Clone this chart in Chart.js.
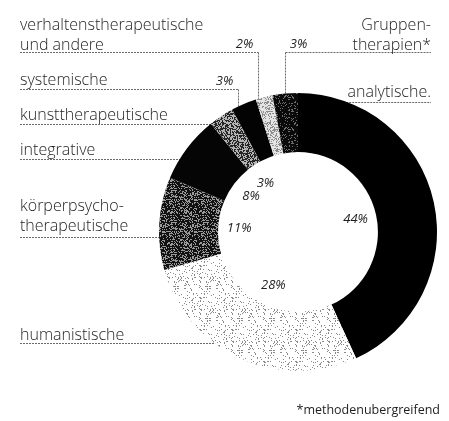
<!DOCTYPE html>
<html>
<head>
<meta charset="utf-8">
<script src="https://cdn.jsdelivr.net/npm/chart.js@4/dist/chart.umd.min.js"></script>
<style>
  html, body { margin: 0; padding: 0; background: #fff; }
  #wrap { position: relative; width: 449px; height: 421px; }
</style>
</head>
<body>
<div id="wrap"><canvas id="c" width="449" height="421"></canvas></div>
<script>
// Categories of therapy method, clockwise from 12 o'clock
const categories = [
  'analytische',
  'humanistische',
  'körperpsychotherapeutische',
  'integrative',
  'kunsttherapeutische',
  'systemische',
  'verhaltenstherapeutische und andere',
  'Gruppentherapien'
];
// Share of each category in percent
const shares = [44, 28, 11, 8, 3, 3, 2, 3];
// Caption lines shown next to the ring for each category
const captionLines = [
  ['analytische.'],
  ['humanistische'],
  ['körperpsycho-', 'therapeutische'],
  ['integrative'],
  ['kunsttherapeutische'],
  ['systemische'],
  ['verhaltenstherapeutische', 'und andere'],
  ['Gruppen-', 'therapien*']
];
const footnote = '*methodenubergreifend';

// Stippled print-style fills: [paper tone, dot tone, dot density]
const textures = [
  ['#000000', '#000000', 0],
  ['#ffffff', '#8a8a8a', 0.13],
  ['#121212', '#9a9a9a', 0.34],
  ['#050505', '#050505', 0],
  ['#262626', '#b4b4b4', 0.5],
  ['#030303', '#030303', 0],
  ['#e4e4e4', '#8c8c8c', 0.33],
  ['#0a0a0a', '#6e6e6e', 0.16]
];

// deterministic integer hash for a stipple tile
function hash(x, y, s) {
  let h = (x * 374761393 + y * 668265263 + s * 2147483647) | 0;
  h = (h ^ (h >>> 13)) * 1274126177 | 0;
  h = h ^ (h >>> 16);
  return ((h >>> 0) % 1000) / 1000;
}

function stipple(paper, dot, density, seed) {
  const n = 32;
  const cv = document.createElement('canvas');
  cv.width = n; cv.height = n;
  const g = cv.getContext('2d');
  g.fillStyle = paper;
  g.fillRect(0, 0, n, n);
  if (density > 0) {
    g.fillStyle = dot;
    for (let y = 0; y < n; y++) {
      for (let x = 0; x < n; x++) {
        if (hash(x, y, seed) < density) g.fillRect(x, y, 1, 1);
      }
    }
  }
  return g.createPattern(cv, 'repeat');
}

const fills = textures.map((t, i) => stipple(t[0], t[1], t[2], i + 1));

const LABEL_FONT = '300 16px "Open Sans", "Noto Sans", sans-serif';
const PCT_FONT = 'italic 13px "Open Sans", "Noto Sans", sans-serif';
const TEXT = '#1e1e1e';

// Caption placement: side, baseline of first line, line gap, underline y,
// and how the leader reaches the ring (horizontal to ring edge, or a drop line)
const captionLayout = [
  { side: 'right', x: 431, base: 97,  gap: 0,  ul: 102, leader: 'h' },
  { side: 'left',  x: 20,  base: 340, gap: 0,  ul: 343, leader: 'h' },
  { side: 'left',  x: 20,  base: 211, gap: 20, ul: 237, leader: 'h' },
  { side: 'left',  x: 20,  base: 155, gap: 0,  ul: 159, leader: 'h' },
  { side: 'left',  x: 20,  base: 120, gap: 0,  ul: 124, leader: 'h' },
  { side: 'left',  x: 20,  base: 85,  gap: 0,  ul: 89,  leader: 'v', at: 0.25, pct: 'left' },
  { side: 'left',  x: 20,  base: 30,  gap: 20, ul: 52,  leader: 'v', at: 0.15, pct: 'left' },
  { side: 'right', x: 431, base: 30,  gap: 20, ul: 52,  leader: 'v', at: 0.5,  pct: 'right' }
];

function dashed(ctx, x1, y1, x2, y2) {
  ctx.save();
  ctx.strokeStyle = '#6a6a6a';
  ctx.lineWidth = 1;
  ctx.setLineDash([2, 1]);
  ctx.beginPath();
  ctx.moveTo(x1, y1);
  ctx.lineTo(x2, y2);
  ctx.stroke();
  ctx.restore();
}

function dropX(arc, L) {
  const ang = arc.startAngle + (arc.endAngle - arc.startAngle) * L.at;
  return Math.round(arc.x + arc.outerRadius * Math.cos(ang)) + 0.5;
}

const annotations = {
  id: 'annotations',
  beforeDatasetsDraw(chart) {
    const ctx = chart.ctx;
    const meta = chart.getDatasetMeta(0);
    const a0 = meta.data[0];
    const cx = a0.x, cy = a0.y, R = a0.outerRadius;
    captionLayout.forEach((L, i) => {
      const arc = meta.data[i];
      const y = L.ul + 0.5;
      if (L.leader === 'h') {
        const dy = L.ul - cy;
        const dx = Math.sqrt(Math.max(0, R * R - dy * dy));
        if (L.side === 'left') dashed(ctx, L.x, y, cx - dx + 2, y);
        else dashed(ctx, cx + dx - 10, y, L.x, y);
      } else {
        const vx = dropX(arc, L);
        const ddx = vx - cx;
        const vy = cy - Math.sqrt(Math.max(0, R * R - ddx * ddx));
        if (L.side === 'left') dashed(ctx, L.x, y, vx, y);
        else dashed(ctx, vx, y, L.x, y);
        dashed(ctx, vx, y, vx, vy + 2);
      }
    });
  },
  afterDatasetsDraw(chart) {
    const ctx = chart.ctx;
    const meta = chart.getDatasetMeta(0);
    const a0 = meta.data[0];
    const cx = a0.x, cy = a0.y;
    ctx.save();
    ctx.fillStyle = TEXT;
    ctx.textBaseline = 'alphabetic';

    // captions
    ctx.font = LABEL_FONT;
    captionLayout.forEach((L, i) => {
      ctx.textAlign = L.side === 'left' ? 'left' : 'right';
      captionLines[i].forEach((line, k) => {
        ctx.fillText(line, L.x, L.base + k * L.gap);
      });
    });

    // percentage labels
    ctx.font = PCT_FONT;
    ctx.textAlign = 'center';
    ctx.textBaseline = 'middle';
    meta.data.forEach((arc, i) => {
      const txt = shares[i] + '%';
      const mid = (arc.startAngle + arc.endAngle) / 2;
      const L = captionLayout[i];
      if (L.leader === 'h') {
        const r = arc.innerRadius - 21;
        ctx.fillText(txt, cx + r * Math.cos(mid), cy + r * Math.sin(mid));
      } else {
        const vx = dropX(arc, L);
        const ty = L.ul - 8;
        if (L.pct === 'left') ctx.fillText(txt, vx - 14, ty);
        else ctx.fillText(txt, vx + 13, ty);
      }
    });

    // footnote
    ctx.font = '12.5px "Open Sans", "Noto Sans", sans-serif';
    ctx.textAlign = 'right';
    ctx.textBaseline = 'alphabetic';
    ctx.fillText(footnote, 440, 414);
    ctx.restore();
  }
};

new Chart(document.getElementById('c'), {
  type: 'doughnut',
  data: {
    labels: categories,
    datasets: [{
      data: shares,
      backgroundColor: fills,
      borderWidth: 0
    }]
  },
  options: {
    responsive: false,
    animation: false,
    cutout: '57.5%',
    layout: { padding: { left: 159, right: 12, top: 93, bottom: 50 } },
    plugins: {
      legend: { display: false },
      tooltip: { enabled: false }
    }
  },
  plugins: [annotations]
});
</script>
</body>
</html>
